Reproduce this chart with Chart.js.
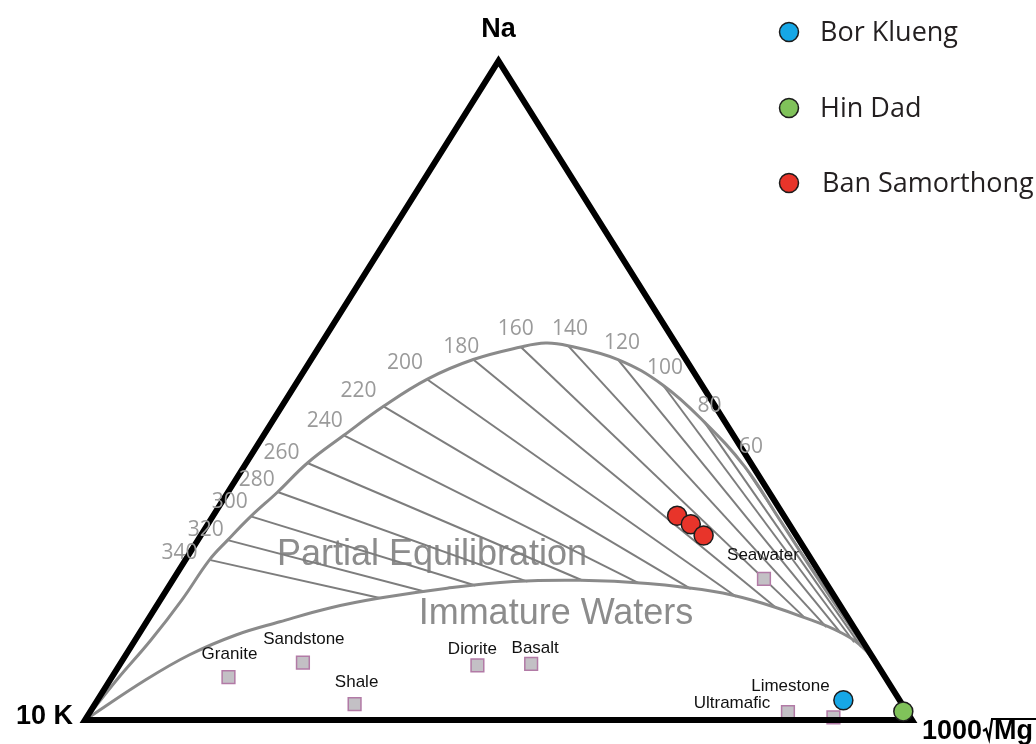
<!DOCTYPE html>
<html>
<head>
<meta charset="utf-8">
<title>Na-K-Mg ternary</title>
<script src="https://cdn.jsdelivr.net/npm/chart.js@4.4.1/dist/chart.umd.min.js"></script>
<style>
  html, body { margin: 0; padding: 0; background: #fff; }
  #wrap { width: 1036px; height: 744px; }
</style>
</head>
<body>
<div id="wrap"><canvas id="giggenbach" width="1036" height="744"></canvas></div>
<script>
// Na-K-Mg (Giggenbach) ternary: compositions are [Na, K, Mg] in percent

const cornerK  = [0, 100, 0];
const cornerNa = [100, 0, 0];
const cornerMg = [0, 0, 100];

// full equilibrium line, from the K corner to the Mg corner
const fullEquilibrium = [
  [0, 100, 0], [6.1, 93.1, 0.8], [12.1, 86.0, 1.9], [18.2, 79.2, 2.6],
  [24.3, 72.8, 2.9], [27.3, 69.1, 3.6], [30.9, 64.5, 4.6], [34.6, 59.4, 6.0],
  [39.0, 53.6, 7.4], [43.2, 47.1, 9.7], [47.6, 40.1, 12.3], [51.7, 32.8, 15.5],
  [54.7, 25.7, 19.6], [56.6, 19.0, 24.4], [57.2, 15.7, 27.1], [56.8, 13.2, 30.0],
  [54.7, 8.2, 37.1], [50.8, 4.7, 44.5], [45.2, 2.5, 52.3], [38.4, 1.0, 60.6],
  [30.4, 0.8, 68.8], [22.8, 0.7, 76.5], [15.2, 0.4, 84.4], [8.3, 0.1, 91.6],
  [0, 0, 100]
];

// boundary of immature waters
const immatureBoundary = [
  [0, 100, 0], [6.1, 89.6, 4.3], [9.9, 82.4, 7.7], [12.9, 75.3, 11.8],
  [14.9, 69.0, 16.1], [17.0, 61.9, 21.1], [18.5, 55.1, 26.4], [20.0, 46.2, 33.8],
  [21.0, 37.7, 41.3], [21.2, 29.5, 49.3], [20.7, 21.6, 57.7], [19.5, 14.2, 66.3],
  [18.2, 10.3, 71.5], [15.7, 5.5, 78.8], [13.2, 1.9, 84.9], [10.5, 0.3, 89.2],
  [5.5, 0.1, 94.4], [0, 0, 100]
];

// K-Na isotherms (deg C): start on full equilibrium, end on the immature boundary
const isoTemps = [340, 320, 300, 280, 260, 240, 220, 200, 180, 160, 140, 120, 100, 80, 60];
const isoStart = [
  [24.3, 72.8, 2.9], [27.3, 69.1, 3.6], [30.9, 64.5, 4.6], [34.6, 59.4, 6.0],
  [39.0, 53.6, 7.4], [43.2, 47.1, 9.7], [47.6, 40.1, 12.3], [51.7, 32.8, 15.5],
  [54.7, 25.7, 19.6], [56.6, 19.0, 24.4], [56.8, 13.2, 30.0], [54.7, 8.2, 37.1],
  [50.8, 4.7, 44.5], [45.2, 2.5, 52.3], [38.4, 1.0, 60.6]
];
const isoEnd = [
  [18.5, 55.1, 26.4], [19.5, 49.2, 31.3], [20.4, 42.6, 37.0], [21.0, 36.0, 43.0],
  [21.2, 29.3, 49.5], [20.8, 22.7, 56.5], [19.9, 16.8, 63.3], [18.7, 11.9, 69.4],
  [17.0, 7.9, 75.1], [15.5, 5.2, 79.3], [14.1, 3.3, 82.6], [13.2, 2.0, 84.8],
  [11.8, 1.1, 87.1], [11.1, 0.6, 88.3], [10.5, 0.3, 89.2]
];

// reference rocks and seawater
const rockNames = ['Granite', 'Sandstone', 'Shale', 'Diorite', 'Basalt', 'Seawater', 'Ultramafic', 'Limestone'];
const rockComp = [
  [6.5, 79.4, 14.1], [8.7, 69.3, 22.0], [2.4, 66.2, 31.4], [8.3, 48.4, 43.3],
  [8.5, 41.8, 49.7], [21.4, 7.2, 71.4], [1.2, 14.4, 84.4], [0.4, 9.3, 90.3]
];

// hot spring samples
const sampleNames = ['Bor Klueng', 'Hin Dad', 'Ban Samorthong'];
const borKlueng = [[3.0, 6.8, 90.2]];
const hinDad = [[1.3, 0.4, 98.3]];
const banSamorthong = [[31.0, 12.9, 56.1], [29.7, 11.9, 58.4], [28.0, 11.2, 60.8]];
const sampleColors = ['#16a7e6', '#80c25a', '#e8342a'];

// label placement (px offsets from the mark)
const isoLabelOffset = [
  [-30, -7], [-22, -10], [-21, -14], [-21, -12], [-26, -10], [-19, -14], [-25, -15],
  [-22, -16], [-12, -13], [-5, -18], [2, -17], [4, -17], [2, -17], [5, -16], [6, -20]
];
const rockLabelOffset = [
  [1, -23], [1, -23], [2, -22], [-5, -16], [4, -16], [-1, -24], [-56, -9], [-43, -31]
];

function toXY(c) {
  const s = c[0] + c[1] + c[2];
  const na = c[0] / s, mg = c[2] / s;
  return { x: mg + na / 2, y: na };
}

const GRAY_CURVE = '#8a8a8a';
const GRAY_TIE = '#7d7d7d';

const datasets = [];

// triangle frame (path runs past the start so every corner gets a miter)
datasets.push({
  label: 'frame',
  data: [cornerK, cornerNa, cornerMg, cornerK, cornerNa].map(toXY),
  showLine: true,
  borderColor: '#000',
  borderWidth: 6,
  borderJoinStyle: 'miter',
  pointRadius: 0,
  order: 1
});

datasets.push({
  label: 'full equilibrium',
  data: fullEquilibrium.map(toXY),
  showLine: true,
  borderColor: GRAY_CURVE,
  borderWidth: 3,
  tension: 0.4,
  pointRadius: 0,
  order: 3
});

datasets.push({
  label: 'immature',
  data: immatureBoundary.map(toXY),
  showLine: true,
  borderColor: GRAY_CURVE,
  borderWidth: 3,
  tension: 0.4,
  pointRadius: 0,
  order: 3
});

isoTemps.forEach((t, i) => {
  datasets.push({
    label: t + ' °C',
    data: [isoStart[i], isoEnd[i]].map(toXY),
    showLine: true,
    borderColor: GRAY_TIE,
    borderWidth: 2,
    pointRadius: 0,
    order: 4
  });
});

datasets.push({
  label: 'rocks',
  data: rockComp.map(toXY),
  pointStyle: 'rect',
  pointRadius: 9,
  backgroundColor: '#c3c0c5',
  borderColor: '#b27aa6',
  borderWidth: 1.5,
  order: 2
});

[borKlueng, hinDad, banSamorthong].forEach((d, i) => {
  datasets.push({
    label: sampleNames[i],
    data: d.map(toXY),
    pointStyle: 'circle',
    pointRadius: 9.5,
    backgroundColor: sampleColors[i],
    borderColor: '#1c1c1c',
    borderWidth: 1.5,
    order: 0
  });
});

datasets.forEach(d => { d.clip = false; });

const textLayer = {
  id: 'textLayer',
  beforeDatasetsDraw(chart) {
    const ctx = chart.ctx;
    ctx.save();
    ctx.fillStyle = '#8c8c8c';
    ctx.font = '36px "Liberation Sans", Arial, sans-serif';
    ctx.textAlign = 'center';
    ctx.textBaseline = 'middle';
    ctx.fillText('Partial Equilibration', 432, 555);
    ctx.fillText('Immature Waters', 556, 614);
    ctx.restore();
  },
  afterDatasetsDraw(chart) {
    const ctx = chart.ctx;
    const sx = chart.scales.x, sy = chart.scales.y;
    const px = c => { const p = toXY(c); return [sx.getPixelForValue(p.x), sy.getPixelForValue(p.y)]; };
    ctx.save();
    ctx.textAlign = 'center';
    ctx.textBaseline = 'middle';

    // isotherm temperatures
    ctx.fillStyle = '#9a9a9a';
    ctx.font = '21px "Open Sans", sans-serif';
    isoTemps.forEach((t, i) => {
      const [x, y] = px(isoStart[i]);
      ctx.fillText(String(t), x + isoLabelOffset[i][0], y + isoLabelOffset[i][1]);
    });

    // rock names
    ctx.fillStyle = '#111';
    ctx.font = '17px "Liberation Sans", Arial, sans-serif';
    rockNames.forEach((n, i) => {
      const [x, y] = px(rockComp[i]);
      ctx.fillText(n, x + rockLabelOffset[i][0], y + rockLabelOffset[i][1]);
    });

    // corner labels
    ctx.fillStyle = '#000';
    ctx.font = 'bold 27px "Liberation Sans", Arial, sans-serif';
    const [nx, ny] = px(cornerNa);
    ctx.fillText('Na', nx, ny - 31);
    const [kx, ky] = px(cornerK);
    ctx.textAlign = 'right';
    ctx.fillText('10 K', kx - 12, ky - 3);
    const [mx, my] = px(cornerMg);
    ctx.textAlign = 'left';
    ctx.textBaseline = 'alphabetic';
    const bx = mx + 10, by = my + 19;
    ctx.fillText('1000', bx, by);
    const w1 = ctx.measureText('1000').width;
    // radical sign with the bar over Mg
    ctx.strokeStyle = '#000';
    ctx.lineWidth = 2.2;
    ctx.beginPath();
    ctx.moveTo(bx + w1 + 1, by - 8);
    ctx.lineTo(bx + w1 + 4, by - 10);
    ctx.lineTo(bx + w1 + 7, by);
    ctx.lineTo(bx + w1 + 10, by - 20);
    ctx.lineTo(bx + w1 + 70, by - 20);
    ctx.stroke();
    ctx.fillText('Mg', bx + w1 + 12, by);

    // legend
    ctx.font = '27px "Open Sans", sans-serif';
    ctx.textBaseline = 'middle';
    const legendY = [32, 108, 183];
    sampleNames.forEach((n, i) => {
      ctx.beginPath();
      ctx.arc(789, legendY[i], 9.5, 0, Math.PI * 2);
      ctx.fillStyle = sampleColors[i];
      ctx.fill();
      ctx.lineWidth = 1.5;
      ctx.strokeStyle = '#1c1c1c';
      ctx.stroke();
      ctx.fillStyle = '#231f20';
      ctx.fillText(n, i === 2 ? 822 : 820, legendY[i] + 1);
    });
    ctx.restore();
  }
};

new Chart(document.getElementById('giggenbach'), {
  type: 'scatter',
  data: { datasets },
  options: {
    responsive: false,
    animation: false,
    layout: { padding: { left: 85, right: 124, top: 61, bottom: 24 } },
    scales: {
      x: { type: 'linear', min: 0, max: 1, display: false },
      y: { type: 'linear', min: 0, max: 1, display: false }
    },
    plugins: {
      legend: { display: false },
      tooltip: { enabled: false }
    }
  },
  plugins: [textLayer]
});
</script>
</body>
</html>
